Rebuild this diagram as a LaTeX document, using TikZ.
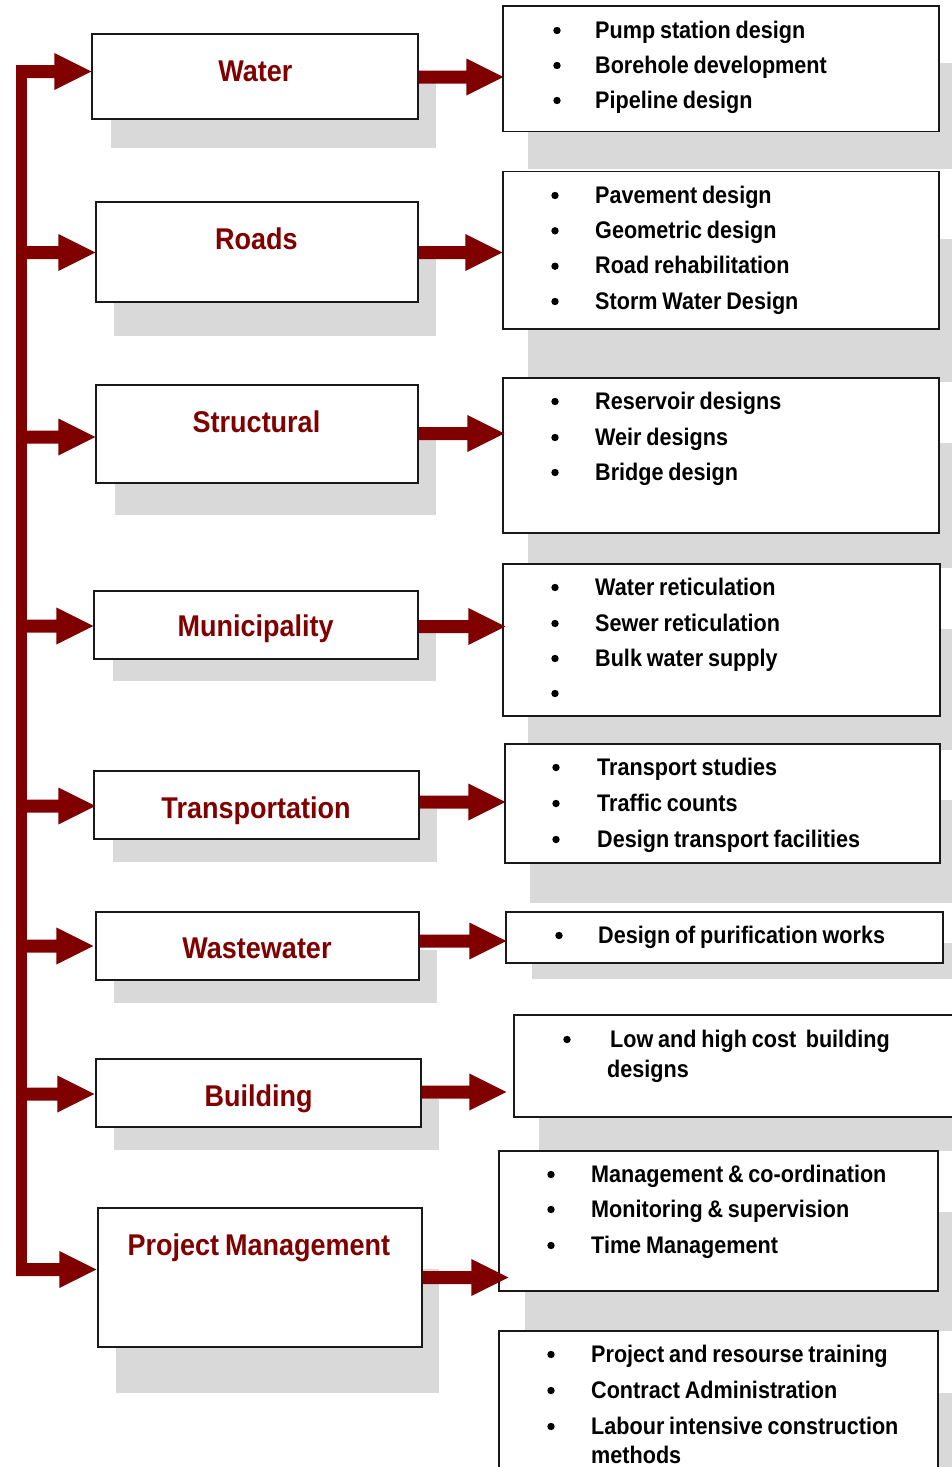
\documentclass[tikz,border=0pt]{standalone}
\usepackage{fontspec}
\setmainfont{Liberation Sans}[FakeStretch=0.9,WordSpace=0.8]
\usetikzlibrary{fit,calc}
\definecolor{dred}{HTML}{800000}
\definecolor{shade}{HTML}{D9D9D9}
\newcommand\fatarrow[4]{%
  \fill[dred] let \p1=(#1), \p2=($(#2)+(#4,0)$) in
   (\x1,{-(#3-6.5)*1pt}) -- (\x2-37pt,{-(#3-6.5)*1pt}) -- (\x2-37pt,{-(#3-18.5)*1pt})
   -- (\x2,{-#3*1pt}) -- (\x2-37pt,{-(#3+18.5)*1pt}) -- (\x2-37pt,{-(#3+6.5)*1pt})
   -- (\x1,{-(#3+6.5)*1pt}) -- cycle;}
\begin{document}
\begin{tikzpicture}[x=1pt,y=-1pt,
  box/.style={draw=black!90, line width=1.2pt, fill=white, inner sep=0pt},
  shadow/.style={fill=shade},
  title/.style={text=dred, font=\fontsize{30}{36}\selectfont\bfseries, anchor=base, inner sep=0pt},
  item/.style={font=\fontsize{24}{28}\selectfont\bfseries, anchor=base west, inner sep=0pt},
  bul/.style={circle, fill=black, minimum size=7.4pt, inner sep=0pt, yshift=7.5pt},
]
\useasboundingbox (0,0) rectangle (952,1467);
\clip (0,0) rectangle (952,1467);

% ---------- shadows (left column)
\fill[shadow] (111,83) rectangle (436,148);
\fill[shadow] (114,258) rectangle (436,336);
\fill[shadow] (115,439) rectangle (436,515);
\fill[shadow] (113,633) rectangle (436,681);
\fill[shadow] (113,809) rectangle (437,862);
\fill[shadow] (114,950) rectangle (437,1003);
\fill[shadow] (114,1099) rectangle (439,1150);
\fill[shadow] (116,1269) rectangle (439,1393);
% ---------- shadows (right column)
\fill[shadow] (528,63) rectangle (964,169);
\fill[shadow] (528,239) rectangle (964,382);
\fill[shadow] (528,443) rectangle (964,568);
\fill[shadow] (528,629) rectangle (964,750);
\fill[shadow] (530,800) rectangle (964,903);
\fill[shadow] (532,943) rectangle (964,979);
\fill[shadow] (539,1080) rectangle (964,1151);
\fill[shadow] (525,1212) rectangle (964,1331);
\fill[shadow] (525,1393) rectangle (964,1500);

% ---------- left boxes
\node[box, fit={(92,34) (418,119)}] (water) {};
\node[box, fit={(96,202) (418,302)}] (roads) {};
\node[box, fit={(96,385) (418,483)}] (struct) {};
\node[box, fit={(94,591) (418,659)}] (muni) {};
\node[box, fit={(94,771) (419,839)}] (trans) {};
\node[box, fit={(96,912) (419,980)}] (waste) {};
\node[box, fit={(96,1059) (421,1127)}] (build) {};
\node[box, fit={(98,1208) (422,1347)}] (pm) {};

\node[title] (waterT) at (255.5,81.5) {Water};
\node[title] (roadsT) at (256.5,249.3) {Roads};
\node[title] (structT) at (256.5,432.3) {Structural};
\node[title] (muniT) at (255.7,636.7) {Municipality};
\node[title] (transT) at (256,818.3) {Transportation};
\node[title] (wasteT) at (257,958.3) {Wastewater};
\node[title] (buildT) at (258.7,1106.7) {Building};
\node[title] (pmT) at (258.8,1255) {Project Management};

% ---------- right boxes
\node[box, fit={(503,6) (939,131.7)}] (wR) {};
\node[box, fit={(503,171.7) (939,329)}] (rR) {};
\node[box, fit={(503,378) (939,533)}] (sR) {};
\node[box, fit={(503,564) (940,716)}] (mR) {};
\node[box, fit={(505,744) (940,863)}] (tR) {};
\node[box, fit={(506,912) (943,963)}] (wwR) {};
\node[box, fit={(514,1015) (964,1117)}] (bR) {};
\node[box, fit={(499,1151) (938,1291)}] (pR1) {};
\node[box, fit={(499,1331) (938,1490)}] (pR2) {};

% Water list
\node[bul] (wb1) at (557,38) {};   \node[item] (wi1) at (595,38) {Pump station design};
\node[bul] (wb2) at (557,73) {};   \node[item] (wi2) at (595,73) {Borehole development};
\node[bul] (wb3) at (557,108) {};  \node[item] (wi3) at (595,108) {Pipeline design};
% Roads list
\node[bul] (rb1) at (555,203) {};   \node[item] (ri1) at (595,203) {Pavement design};
\node[bul] (rb2) at (555,238.3) {}; \node[item] (ri2) at (595,238.3) {Geometric design};
\node[bul] (rb3) at (555,273.7) {}; \node[item] (ri3) at (595,273.7) {Road rehabilitation};
\node[bul] (rb4) at (555,309) {};   \node[item] (ri4) at (595,309) {Storm Water Design};
% Structural list
\node[bul] (sb1) at (555,409) {}; \node[item] (si1) at (595,409) {Reservoir designs};
\node[bul] (sb2) at (555,445) {}; \node[item] (si2) at (595,445) {Weir designs};
\node[bul] (sb3) at (555,480) {}; \node[item] (si3) at (595,480) {Bridge design};
% Municipality list
\node[bul] (mb1) at (555,595) {}; \node[item] (mi1) at (595,595) {Water reticulation};
\node[bul] (mb2) at (555,631) {}; \node[item] (mi2) at (595,631) {Sewer reticulation};
\node[bul] (mb3) at (555,666) {}; \node[item] (mi3) at (595,666) {Bulk water supply};
\node[bul] (mb4) at (555,701) {};
% Transportation list
\node[bul] (tb1) at (556,775) {}; \node[item] (ti1) at (597,775) {Transport studies};
\node[bul] (tb2) at (556,811) {}; \node[item] (ti2) at (597,811) {Traffic counts};
\node[bul] (tb3) at (556,847) {}; \node[item] (ti3) at (597,847) {Design transport facilities};
% Wastewater list
\node[bul] (wwb1) at (559,943) {}; \node[item] (wwi1) at (598,943) {Design of purification works};
% Building list
\node[bul] (bb1) at (567,1047) {}; \node[item] (bi1) at (610,1047) {Low and high cost\ \ building};
\node[item] (bi2) at (607,1077) {designs};
% Project management lists
\node[bul] (pb1) at (551,1182) {}; \node[item] (pi1) at (591,1182) {Management \& co-ordination};
\node[bul] (pb2) at (551,1217) {}; \node[item] (pi2) at (591,1217) {Monitoring \& supervision};
\node[bul] (pb3) at (551,1253) {}; \node[item] (pi3) at (591,1253) {Time Management};
\node[bul] (qb1) at (551,1362) {}; \node[item] (qi1) at (591,1362) {Project and resourse training};
\node[bul] (qb2) at (551,1398) {}; \node[item] (qi2) at (591,1398) {Contract Administration};
\node[bul] (qb3) at (551,1434) {}; \node[item] (qi3) at (591,1434) {Labour intensive construction};
\node[item] (qi4) at (591,1463) {methods};

% ---------- spine and arrows
\coordinate (spine) at (16,0);
\fill[dred] (16,65) rectangle (27,1276);
\fatarrow{spine}{water.west}{71.5}{0}
\fatarrow{spine}{roads.west}{252.5}{0}
\fatarrow{spine}{struct.west}{437}{0}
\fatarrow{spine}{muni.west}{626}{0}
\fatarrow{spine}{trans.west}{806}{2}
\fatarrow{spine}{waste.west}{946}{-2}
\fatarrow{spine}{build.west}{1094}{-1}
\fatarrow{spine}{pm.west}{1269.5}{-1}

\fatarrow{water.east}{wR.west}{77}{1}
\fatarrow{roads.east}{rR.west}{252.5}{0}
\fatarrow{struct.east}{sR.west}{433.5}{2}
\fatarrow{muni.east}{mR.west}{626.5}{3}
\fatarrow{trans.east}{tR.west}{802}{1}
\fatarrow{waste.east}{wwR.west}{941}{1}
\fatarrow{build.east}{bR.west}{1092}{-7}
\fatarrow{pm.east}{pR1.west}{1277.5}{10}
\end{tikzpicture}
\end{document}
